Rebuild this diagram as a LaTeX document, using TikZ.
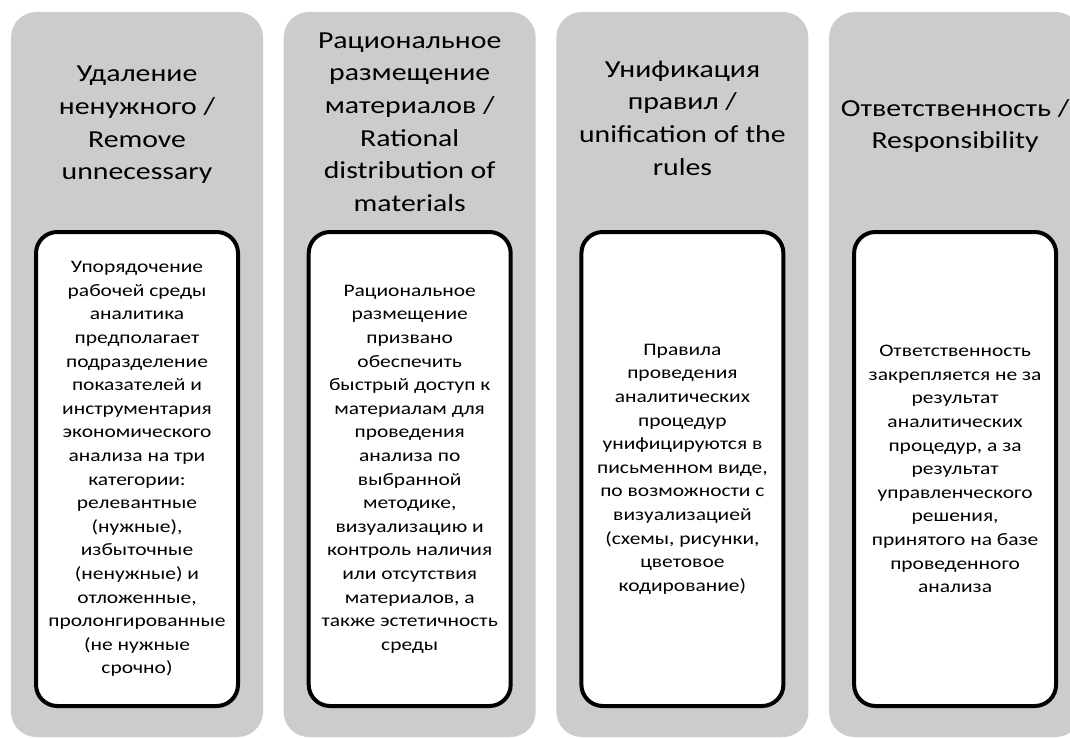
\documentclass[tikz,border=0pt]{standalone}
\usepackage{fontspec}
\setmainfont{Carlito}[FakeStretch=1.22]
\usetikzlibrary{positioning}
\definecolor{colgray}{HTML}{CCCCCC}

\tikzset{
  column/.style={fill=colgray,rounded corners=19pt},
  headtext/.style={align=center,text=black,font=\fontsize{18.3}{24.5}\selectfont},
  bodybox/.style={draw=black,line width=3pt,fill=white,rounded corners=16pt,
    minimum width=151.5pt,minimum height=355.5pt,align=center,text=black,
    font=\fontsize{13.2}{17.7}\selectfont}
}

\begin{document}
\begin{tikzpicture}[x=0.75pt,y=-0.75pt]
       \useasboundingbox(0,0)rectangle(1070,738);
       \clip(0,0)rectangle(1070,738);

       \foreach \i in{0,...,3}
           \fill[column]({11+272.7*\i},12)rectangle++(252,725);%灰色の柱

       \coordinate(C1)at(137,0);%列の中心
       \coordinate(C2)at(409.7,0);
       \coordinate(C3)at(682.4,0);
       \coordinate(C4)at(955.1,0);

       %見出し
       \node[headtext](head1)at(C1|-0,125){Удаление\\ненужного /\\Remove\\unnecessary};
       \node[headtext](head2)at(C2|-0,122){Рациональное\\размещение\\материалов /\\Rational\\distribution of\\materials};
       \node[headtext](head3)at(C3|-0,118){Унификация\\правил /\\unification of the\\rules};
       \node[headtext](head4)at(C4|-0,126){Ответственность /\\Responsibility};

       %本文の枠
       \node[bodybox](body1)at(C1|-0,469){Упорядочение\\рабочей среды\\аналитика\\предполагает\\подразделение\\показателей и\\инструментария\\экономического\\анализа на три\\категории:\\релевантные\\(нужные),\\избыточные\\(ненужные) и\\отложенные,\\пролонгированные\\(не нужные\\срочно)};
       \node[bodybox](body2)at(C2|-0,469){Рациональное\\размещение\\призвано\\обеспечить\\быстрый доступ к\\материалам для\\проведения\\анализа по\\выбранной\\методике,\\визуализацию и\\контроль наличия\\или отсутствия\\материалов, а\\также эстетичность\\среды};
       \node[bodybox](body3)at(C3|-0,469){Правила\\проведения\\аналитических\\процедур\\унифицируются в\\письменном виде,\\по возможности с\\визуализацией\\(схемы, рисунки,\\цветовое\\кодирование)};
       \node[bodybox](body4)at(C4|-0,469){Ответственность\\закрепляется не за\\результат\\аналитических\\процедур, а за\\результат\\управленческого\\решения,\\принятого на базе\\проведенного\\анализа};

\end{tikzpicture}
\end{document}
